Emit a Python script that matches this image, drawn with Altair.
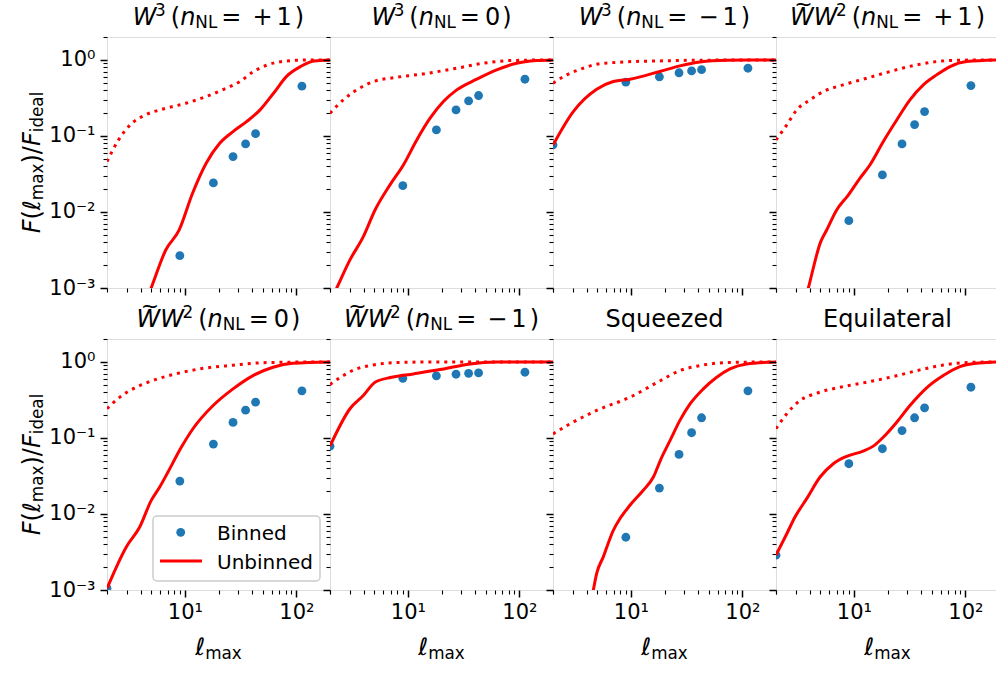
import altair as alt
import pandas as pd

FONT = "DejaVu Sans"
BLUE = "#1f77b4"
RED = "#ff0000"

# ---------------- data ----------------
# Panel 1: W^3 (n_NL = +1)
P1_SOLID_ELL = [4, 4.98, 6.73, 8.88, 11.7, 15.5, 20.5, 27, 35.7, 47.2, 62.3, 82.4, 108.7, 143.6, 200]
P1_SOLID_F = [4.4e-4, 1e-3, 3.16e-3, 5.8e-3, 0.0176, 0.0437, 0.080, 0.114, 0.154, 0.22, 0.364, 0.616, 0.817, 0.97, 1.0]
P1_DOT_ELL = [2, 2.54, 3.35, 4.43, 6.73, 10.2, 15.5, 23.5, 31.2, 41, 54, 82, 120, 200]
P1_DOT_F = [0.046, 0.0886, 0.147, 0.189, 0.231, 0.269, 0.33, 0.424, 0.519, 0.70, 0.85, 0.97, 0.995, 1.0]
P1_BIN_ELL = [9, 18, 27, 35, 43, 112]
P1_BIN_F = [2.66e-3, 0.0241, 0.0535, 0.0785, 0.107, 0.451]

# Panel 2: W^3 (n_NL = 0)
P2_SOLID_ELL = [2, 2.3, 3.02, 3.98, 5.07, 6.9, 9.1, 12, 15.8, 20.8, 27.4, 41.4, 62.5, 94.4, 143, 200]
P2_SOLID_F = [6.5e-4, 1e-3, 2.34e-3, 4.73e-3, 0.0106, 0.0227, 0.0415, 0.0886, 0.171, 0.283, 0.403, 0.557, 0.739, 0.904, 0.98, 1.0]
P2_DOT_ELL = [2, 2.63, 3.47, 4.89, 7.9, 13.7, 27.4, 47.5, 82, 200]
P2_DOT_F = [0.199, 0.298, 0.403, 0.518, 0.59, 0.654, 0.777, 0.904, 0.98, 1.0]
P2_BIN_ELL = [9, 18, 27, 35, 43, 112]
P2_BIN_F = [0.0222, 0.12, 0.22, 0.289, 0.34, 0.557]

# Panel 3: W^3 (n_NL = -1)
P3_SOLID_ELL = [2, 3.04, 4.93, 6.95, 9.8, 18.5, 27.5, 41.6, 72, 200]
P3_SOLID_F = [0.076, 0.209, 0.411, 0.519, 0.557, 0.71, 0.834, 0.94, 0.99, 1.0]
P3_DOT_ELL = [2, 2.65, 3.74, 4.93, 7.98, 18.2, 40, 200]
P3_DOT_F = [0.493, 0.635, 0.777, 0.877, 0.933, 0.97, 0.99, 1.0]
P3_BIN_ELL = [2, 9, 18, 27, 35, 43, 112]
P3_BIN_F = [0.076, 0.51, 0.6, 0.677, 0.717, 0.743, 0.777]

# Panel 4: ~WW^2 (n_NL = +1)
P4_SOLID_ELL = [3.5, 3.9, 5.04, 5.7, 7.0, 8.9, 11.3, 13.9, 18.3, 24.2, 31.8, 41.9, 55.2, 72.8, 102.6, 200]
P4_SOLID_F = [5.5e-4, 1e-3, 4.07e-3, 5.8e-3, 0.0106, 0.0167, 0.0277, 0.0415, 0.084, 0.162, 0.298, 0.469, 0.635, 0.817, 0.95, 1.0]
P4_DOT_ELL = [2, 2.5, 3.07, 4.04, 5.3, 8.0, 13, 21, 34, 55, 90, 200]
P4_DOT_F = [0.0886, 0.14, 0.22, 0.298, 0.383, 0.469, 0.574, 0.702, 0.841, 0.95, 0.99, 1.0]
P4_BIN_ELL = [9, 18, 27, 35, 43, 112]
P4_BIN_F = [7.69e-3, 0.0307, 0.0785, 0.141, 0.209, 0.459]

# Panel 5: ~WW^2 (n_NL = 0)
P5_SOLID_ELL = [2, 2.98, 3.93, 4.99, 5.94, 7.05, 9.3, 11.8, 17.9, 27, 40.8, 61.7, 93, 200]
P5_SOLID_F = [1.05e-3, 3.69e-3, 6.75e-3, 0.0151, 0.0226, 0.0356, 0.0757, 0.132, 0.267, 0.442, 0.661, 0.85, 0.96, 1.0]
P5_DOT_ELL = [2, 2.6, 3.42, 4.83, 7.8, 13.6, 27, 53.7, 200]
P5_DOT_F = [0.242, 0.343, 0.442, 0.551, 0.681, 0.81, 0.904, 0.98, 1.0]
P5_BIN_ELL = [2, 9, 18, 27, 35, 43, 112]
P5_BIN_F = [1.05e-3, 0.0271, 0.083, 0.16, 0.232, 0.295, 0.416]

# Panel 6: ~WW^2 (n_NL = -1)
P6_SOLID_ELL = [2, 3.02, 3.98, 5.07, 7.15, 11.2, 19.4, 36, 62.5, 200]
P6_SOLID_F = [0.078, 0.242, 0.361, 0.54, 0.628, 0.695, 0.792, 0.94, 0.995, 1.0]
P6_DOT_ELL = [2, 2.63, 3.47, 4.89, 7.9, 16, 200]
P6_DOT_F = [0.503, 0.661, 0.81, 0.91, 0.98, 0.998, 1.0]
P6_BIN_ELL = [2, 9, 18, 27, 35, 43, 112]
P6_BIN_F = [0.078, 0.609, 0.655, 0.688, 0.708, 0.717, 0.731]

# Panel 7: Squeezed
P7_SOLID_ELL = [4.3, 4.6, 4.93, 5.65, 6.95, 7.98, 9.8, 12.9, 15.9, 18.5, 22.4, 27.5, 33.9, 44.6, 58.8, 77.3, 109, 200]
P7_SOLID_F = [6e-4, 1e-3, 1.65e-3, 2.73e-3, 6.1e-3, 8.7e-3, 0.013, 0.0205, 0.0306, 0.052, 0.092, 0.17, 0.28, 0.442, 0.628, 0.81, 0.94, 1.0]
P7_DOT_ELL = [2, 2.84, 4.93, 9.8, 18.5, 27.5, 41.6, 72, 200]
P7_DOT_F = [0.113, 0.153, 0.23, 0.343, 0.57, 0.769, 0.894, 0.98, 1.0]
P7_BIN_ELL = [9, 18, 27, 35, 43, 112]
P7_BIN_F = [4.94e-3, 0.0219, 0.0607, 0.117, 0.184, 0.416]

# Panel 8: Equilateral
P8_SOLID_ELL = [2, 2.5, 2.96, 3.77, 4.97, 6.53, 8.6, 12.1, 14.9, 18.3, 24.2, 31.8, 44.9, 63.3, 89.3, 135, 200]
P8_SOLID_F = [2.87e-3, 5.5e-3, 9.1e-3, 0.0159, 0.0306, 0.0458, 0.0572, 0.0671, 0.078, 0.102, 0.161, 0.267, 0.456, 0.661, 0.867, 0.97, 1.0]
P8_DOT_ELL = [2, 2.5, 3.28, 4.63, 7.5, 13, 22.5, 39.2, 63.3, 103, 200]
P8_DOT_F = [0.132, 0.208, 0.31, 0.387, 0.464, 0.54, 0.641, 0.785, 0.91, 0.98, 1.0]
P8_BIN_ELL = [2, 9, 18, 27, 35, 43, 112]
P8_BIN_F = [2.87e-3, 0.0458, 0.0721, 0.125, 0.184, 0.249, 0.464]

# titles: (kind, sign)  kind: "W3", "WW2" or plain text
TITLES = [("W3", "+1"), ("W3", "0"), ("W3", "−1"), ("WW2", "+1"),
          ("WW2", "0"), ("WW2", "−1"), ("text", "Squeezed"), ("text", "Equilateral")]
LEGEND_LABELS = ["Binned", "Unbinned"]

X_TICKS = [2, 3, 4, 5, 6, 7, 8, 9, 10, 20, 30, 40, 50, 60, 70, 80, 90, 100, 200]
Y_TICKS = [0.001, 0.002, 0.003, 0.004, 0.005, 0.006, 0.007, 0.008, 0.009,
           0.01, 0.02, 0.03, 0.04, 0.05, 0.06, 0.07, 0.08, 0.09,
           0.1, 0.2, 0.3, 0.4, 0.5, 0.6, 0.7, 0.8, 0.9, 1, 2]

PANELS = [
    (P1_SOLID_ELL, P1_SOLID_F, P1_DOT_ELL, P1_DOT_F, P1_BIN_ELL, P1_BIN_F),
    (P2_SOLID_ELL, P2_SOLID_F, P2_DOT_ELL, P2_DOT_F, P2_BIN_ELL, P2_BIN_F),
    (P3_SOLID_ELL, P3_SOLID_F, P3_DOT_ELL, P3_DOT_F, P3_BIN_ELL, P3_BIN_F),
    (P4_SOLID_ELL, P4_SOLID_F, P4_DOT_ELL, P4_DOT_F, P4_BIN_ELL, P4_BIN_F),
    (P5_SOLID_ELL, P5_SOLID_F, P5_DOT_ELL, P5_DOT_F, P5_BIN_ELL, P5_BIN_F),
    (P6_SOLID_ELL, P6_SOLID_F, P6_DOT_ELL, P6_DOT_F, P6_BIN_ELL, P6_BIN_F),
    (P7_SOLID_ELL, P7_SOLID_F, P7_DOT_ELL, P7_DOT_F, P7_BIN_ELL, P7_BIN_F),
    (P8_SOLID_ELL, P8_SOLID_F, P8_DOT_ELL, P8_DOT_F, P8_BIN_ELL, P8_BIN_F),
]

# ---------------- layout constants ----------------
PW, PH = 223, 251
BIG, SMALL, TICKF = 24, 16.8, 21

EM = {'W': 2025, 'F': 1178, 'N': 1532, 'L': 1141, 'n': 1298, 'm': 1995, 'a': 1255,
      'x': 1212, 'i': 569, 'd': 1300, 'e': 1260, 'l': 569, '(': 799, ')': 799,
      '+': 1716, '=': 1716, '−': 1716, '/': 690, 'ℓ': 857, '~': 1716}


def tw(s, size):
    return sum(EM.get(c, 1303) for c in s) / 2048.0 * size


ONE = pd.DataFrame({"k": [0]})


def txt(t, px, py, size, italic=False, angle=0, align="left"):
    return alt.Chart(ONE).mark_text(
        text=t, fontSize=size, fontStyle="italic" if italic else "normal",
        font=FONT, color="black", align=align, baseline="alphabetic", angle=angle
    ).encode(x=alt.value(px), y=alt.value(py))


def total(pieces):
    return sum(p[4] + tw(p[0], p[1]) for p in pieces)


def lay(pieces, x0, y0, angle=0):
    out, pos, starts = [], 0.0, []
    for (t, size, it, shift, gap) in pieces:
        pos += gap
        if angle == 0:
            px, py = x0 + pos, y0 + shift
        else:
            px, py = x0 + shift, y0 - pos
        starts.append(px)
        out.append(txt(t, px, py, size, it, angle))
        pos += tw(t, size)
    return out, starts


def title_layers(kind, sign):
    base_y = -12.5
    cx = PW / 2.0
    if kind == "text":
        return [txt(sign, cx, base_y, BIG, align="center")]
    pieces = []
    if kind == "WW2":
        pieces.append(("W", BIG, True, 0, 0))
        pieces.append(("W", BIG, True, 0, 0))
        pieces.append(("2", SMALL, False, -8.5, -1.5))
    else:
        pieces.append(("W", BIG, True, 0, 0))
        pieces.append(("3", SMALL, False, -8.5, -1.5))
    pieces += [("(", BIG, False, 0, 5), ("n", BIG, True, 0, 0), ("NL", SMALL, False, 3.5, 0),
               ("=", BIG, False, 0, 4)]
    if sign == "0":
        pieces += [("0", BIG, False, 0, 5), (")", BIG, False, 0, 2)]
    else:
        pieces += [(sign[0], BIG, False, 0, 11), ("1", BIG, False, 0, 4), (")", BIG, False, 0, 3)]
    x0 = cx - total(pieces) / 2.0
    layers, starts = lay(pieces, x0, base_y)
    if kind == "WW2":
        wx = starts[0]
        layers.append(txt("~", wx + 13.5 - tw("~", 22) / 2.0, base_y - 13.5, 22))
    return layers


def ylabel_layers():
    pieces = [("F", BIG, True, 0, 0), ("(", BIG, False, 0, 0), ("ℓ", BIG, False, 0, 0),
              ("max", SMALL, False, 3.5, 0), (")", BIG, False, 0, 0), ("/", BIG, False, 0, 0),
              ("F", BIG, True, 0, 0), ("ideal", SMALL, False, 3.5, 0)]
    y0 = PH / 2.0 + total(pieces) / 2.0
    layers, _ = lay(pieces, -67.5, y0, angle=270)
    return layers


def xlabel_layers():
    pieces = [("ℓ", BIG, False, 0, 0), ("max", SMALL, False, 3.5, 0)]
    x0 = PW / 2.0 - total(pieces) / 2.0
    layers, _ = lay(pieces, x0, PH + 65)
    return layers


def legend_layers():
    box = alt.Chart(ONE).mark_rect(
        fill="white", fillOpacity=0.8, stroke="#cccccc", strokeWidth=1.5, cornerRadius=4
    ).encode(x=alt.value(46), x2=alt.value(213), y=alt.value(177), y2=alt.value(242))
    dot = alt.Chart(ONE).mark_point(filled=True, size=78, color=BLUE, opacity=1).encode(
        x=alt.value(73.7), y=alt.value(193.3))
    line = alt.Chart(ONE).mark_rule(color=RED, strokeWidth=3).encode(
        x=alt.value(53), x2=alt.value(95), y=alt.value(222))
    return [box, dot, line,
            txt(LEGEND_LABELS[0], 110, 201, 20),
            txt(LEGEND_LABELS[1], 110, 230, 20)]


EXPO = "round(log(datum.value)/LN10)"
MAJOR = f"abs(log(datum.value)/LN10 - {EXPO}) < 0.01"
SUPS = "['⁻³','⁻²','⁻¹','⁰','¹','²']"
LABEL = f"({MAJOR}) ? ('10' + {SUPS}[{EXPO}+3]) : ''"


def axis(values, show_labels, orient):
    return alt.Axis(
        values=values, labels=show_labels, labelExpr=LABEL, title=None, domain=False,
        grid=False, ticks=True, tickColor="black",
        tickSize={"condition": {"test": MAJOR, "value": 7}, "value": 4},
        tickWidth={"condition": {"test": MAJOR, "value": 1.5}, "value": 1.1},
        labelFontSize=TICKF, labelFont=FONT, labelColor="black",
        labelPadding=5 if orient == "left" else 4,
        labelOverlap=False, labelFlush=False, labelBound=False, orient=orient,
    )


def panel(i):
    sl, sf, dl, df, bl, bf = PANELS[i]
    row, col = divmod(i, 4)
    xs = alt.Scale(type="log", domain=[2, 200], nice=False)
    ys = alt.Scale(type="log", domain=[1e-3, 2], nice=False)
    xa = axis(X_TICKS, row == 1, "bottom")
    ya = axis(Y_TICKS, col == 0, "left")
    X = alt.X("ell:Q", scale=xs, axis=xa)
    Y = alt.Y("F:Q", scale=ys, axis=ya)
    pts = alt.Chart(pd.DataFrame({"ell": bl, "F": bf})).mark_point(
        filled=True, size=78, color=BLUE, opacity=1, clip=True).encode(x=X, y=Y)
    solid = alt.Chart(pd.DataFrame({"ell": sl, "F": sf})).mark_line(
        color=RED, strokeWidth=3, clip=True, interpolate="monotone").encode(x=X, y=Y)
    dotted = alt.Chart(pd.DataFrame({"ell": dl, "F": df})).mark_line(
        color=RED, strokeWidth=3, strokeDash=[3, 4.95], strokeCap="butt", clip=True,
        interpolate="monotone").encode(x=X, y=Y)
    layers = [pts, solid, dotted]
    kind, sign = TITLES[i]
    layers += title_layers(kind, sign)
    if col == 0:
        layers += ylabel_layers()
    if row == 1:
        layers += xlabel_layers()
    if i == 4:
        layers += legend_layers()
    return alt.layer(*layers).properties(width=PW, height=PH)


chart = alt.concat(
    *[panel(i) for i in range(8)], columns=4,
    spacing={"row": 51, "column": 0}, bounds="flush"
).properties(
    autosize=alt.AutoSizeParams(type="none"),
    padding={"left": 107, "top": 37, "right": 889, "bottom": 636},
    background="white",
).configure_view(stroke="black", strokeWidth=1.5).configure(font=FONT)

chart.save("out.html", embed_options={"renderer": "svg", "actions": False})
